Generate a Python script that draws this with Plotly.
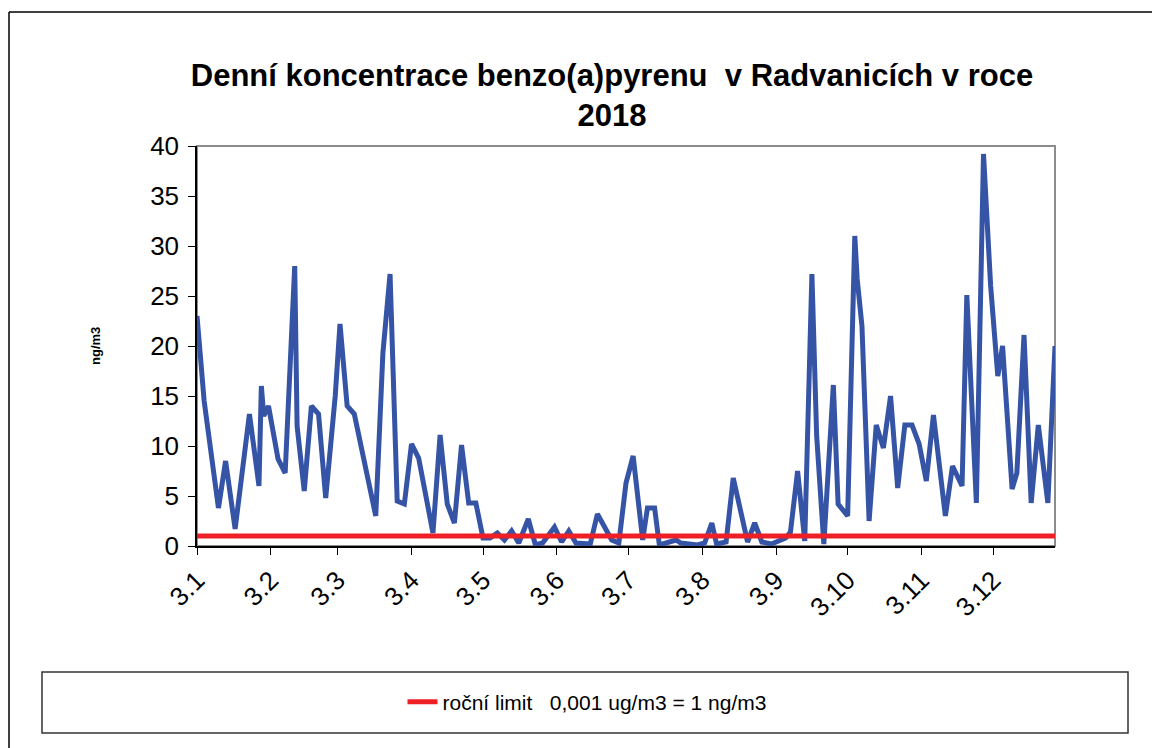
import pandas as pd
import plotly.graph_objects as go

# Day of year 2018 for each measurement and the daily concentration (ng/m3)
day_of_year = [3, 6, 12, 15, 19, 25, 29, 30, 31, 33, 37, 40, 44, 45, 48, 51, 54, 57, 61, 63,
               66, 69, 78, 81, 84, 87, 90, 93, 96, 102, 105, 108, 111, 114, 117, 120, 123, 126, 129, 132,
               135, 138, 142, 145, 148, 153, 156, 159, 162, 168, 171, 177, 180, 183, 186, 190, 192, 195, 197, 201,
               204, 206, 213, 216, 219, 221, 225, 228, 234, 237, 240, 244, 250, 252, 255, 258, 261, 263, 266, 270,
               272, 276, 279, 280, 282, 285, 288, 291, 294, 297, 300, 303, 306, 309, 312, 317, 320, 324, 326, 330,
               333, 336, 339, 341, 345, 347, 350, 353, 356, 360, 363]
bap_ng_m3 = [23, 14.5, 3.8, 8.5, 1.7, 13.2, 6, 16, 13, 14, 8.7, 7.3, 28, 12, 5.5, 14, 13.2, 4.8, 15, 22.2,
             14, 13.2, 3, 19.3, 27.2, 4.5, 4.2, 10.2, 8.8, 1.3, 11.1, 4.2, 2.3, 10.1, 4.3, 4.3, 0.8, 0.8, 1.3, 0.6,
             1.5, 0.3, 2.7, 0.1, 0.3, 1.9, 0.4, 1.5, 0.3, 0.2, 3.2, 0.6, 0.3, 6.3, 9, 0.6, 3.8, 3.8, 0.1, 0.4,
             0.6, 0.3, 0.1, 0.3, 2.3, 0.2, 0.4, 6.8, 0.4, 2.3, 0.4, 0.2, 0.8, 1.4, 7.5, 0.5, 27.2, 11, 0.2, 16.1,
             4.2, 3, 31, 26.7, 22, 2.5, 12.1, 9.8, 15, 5.8, 12.1, 12.1, 10.2, 6.5, 13.1, 3, 8, 6, 25.1, 4.3,
             39.2, 26, 17, 20, 5.7, 7.3, 21.1, 4.3, 12.1, 4.3, 20]

limit_value = 1.0
limit_name = "roční limit   0,001 ug/m3 = 1 ng/m3"
axis_start = "2018-01-03"
axis_end = "2018-12-29"

tick_dates = ["2018-%02d-03" % m for m in range(1, 13)]
tick_labels = ["3.%d" % m for m in range(1, 13)]

title_lines = ["Denní koncentrace benzo(a)pyrenu  v Radvanicích v roce", "2018"]

dates = pd.Timestamp("2018-01-01") + pd.to_timedelta([d - 1 for d in day_of_year], unit="D")

fig = go.Figure()
fig.add_trace(go.Scatter(
    x=dates, y=bap_ng_m3, mode="lines",
    line=dict(color="#3654A6", width=5),
    showlegend=False, name="B(a)P",
))
fig.add_trace(go.Scatter(
    x=[axis_start, axis_end], y=[limit_value, limit_value], mode="lines",
    line=dict(color="#EE2026", width=5),
    name=limit_name, showlegend=True,
))

FONT = "Liberation Sans, Arial, sans-serif"
W, H = 1152, 740  # page body has an 8px margin
PL, PT, PW, PH = 189, 138, 858, 400  # plot area in figure pixels


def px(xf):
    return (xf - PL) / PW


def py(yf):
    return (PT + PH - yf) / PH


fig.update_layout(
    width=W, height=H,
    margin=dict(l=PL, r=W - PL - PW, t=PT, b=H - PT - PH),
    paper_bgcolor="white", plot_bgcolor="white",
    font=dict(family=FONT, color="black"),
    title=dict(text="<br>".join("<b>%s</b>" % t for t in title_lines),
               x=604 / W, xanchor="center", y=1 - 78 / H, yanchor="middle",
               font=dict(size=31, family=FONT, color="black")),
    xaxis=dict(
        type="date", range=[axis_start, axis_end],
        tickmode="array", tickvals=tick_dates, ticktext=tick_labels,
        tickangle=-45, tickfont=dict(size=26, family=FONT),
        ticks="outside", ticklen=7, tickcolor="black",
        showline=True, linecolor="black", linewidth=1.5,
        showgrid=False, zeroline=False,
    ),
    yaxis=dict(
        range=[0, 40], dtick=5, tickfont=dict(size=26, family=FONT),
        ticks="outside", ticklen=7, tickcolor="black", ticklabelstandoff=4,
        showline=True, linecolor="black", linewidth=1.5,
        showgrid=False, zeroline=False,
    ),
    legend=dict(
        orientation="h", x=px(579), xanchor="center",
        y=py(694), yanchor="middle",
        font=dict(size=21, family=FONT), bgcolor="rgba(0,0,0,0)",
    ),
    annotations=[dict(
        text="<b>ng/m3</b>", xref="paper", yref="paper",
        x=px(87), y=0.5, textangle=-90, showarrow=False,
        font=dict(size=13, family=FONT), xanchor="center", yanchor="middle",
    )],
    shapes=[
        # plot area frame (gray)
        dict(type="rect", xref="paper", yref="paper", x0=0, x1=1, y0=0, y1=1,
             line=dict(color="#8C8C8C", width=2), layer="below"),
        # legend box
        dict(type="rect", xref="paper", yref="paper",
             x0=px(34), x1=px(1120), y0=py(725), y1=py(664),
             line=dict(color="#333333", width=1.5)),
        # outer chart frame: top and left edges
        dict(type="line", xref="paper", yref="paper",
             x0=px(1), x1=px(1160), y0=py(4), y1=py(4),
             line=dict(color="black", width=1.5)),
        dict(type="line", xref="paper", yref="paper",
             x0=px(1), x1=px(1), y0=py(4), y1=py(760),
             line=dict(color="black", width=1.5)),
    ],
)

fig.write_html("out.html")
